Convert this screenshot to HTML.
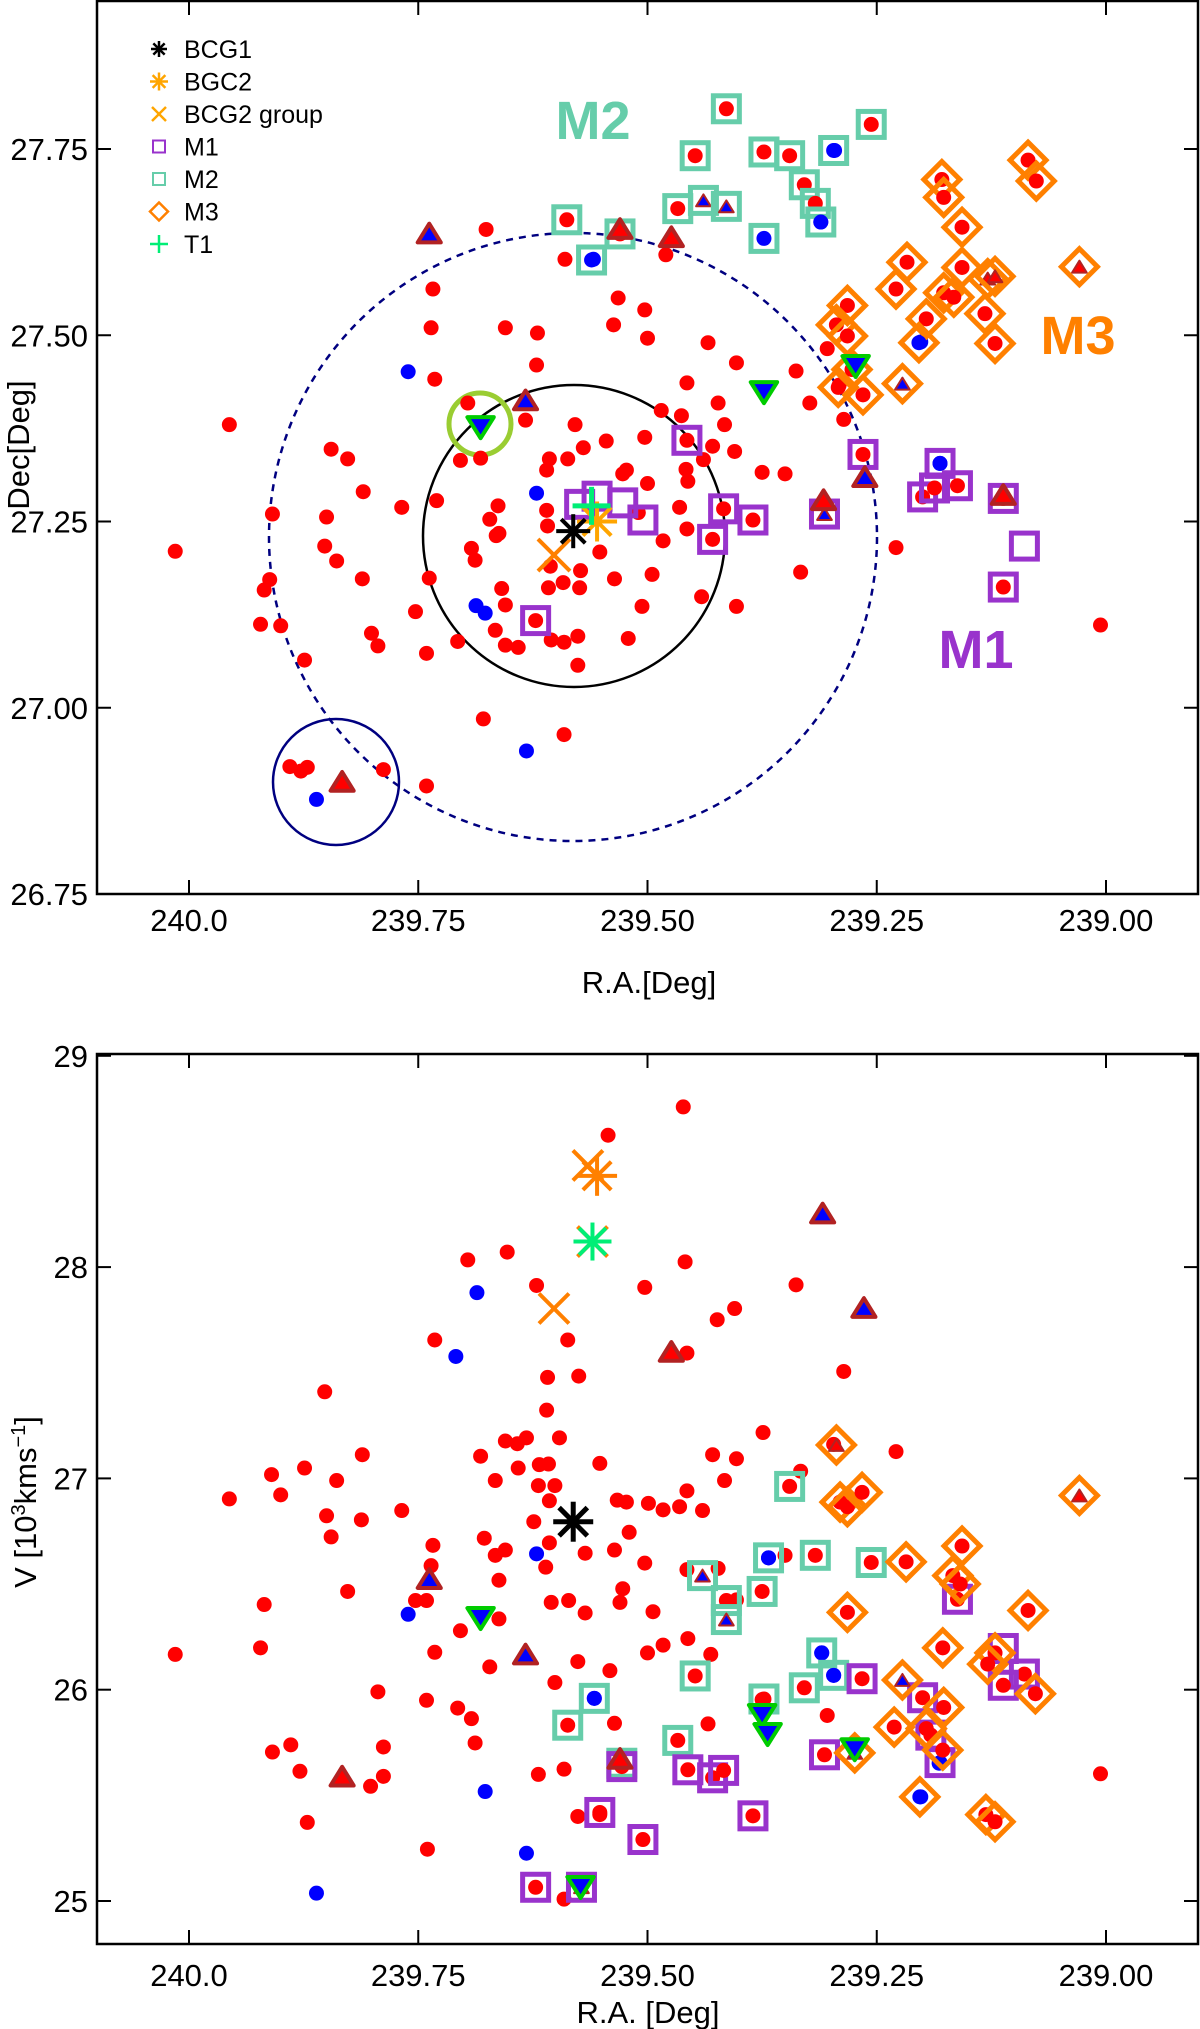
<!DOCTYPE html>
<html><head><meta charset="utf-8"><style>
html,body{margin:0;padding:0;background:#fff;}
svg{display:block;font-family:"Liberation Sans",Arial,sans-serif;}
</style></head><body>
<svg id="fig" width="1200" height="2029" viewBox="0 0 1200 2029" xmlns="http://www.w3.org/2000/svg"></svg>
<script>
// ---------- TOP PANEL DATA (R.A., Dec) ----------
const topRedRA=[240.015,239.956,239.909,239.912,239.918,239.922,239.900,239.874,239.845,239.827,239.810,239.850,239.852,239.839,239.811,239.801,239.794,239.768,239.734,239.736,239.732,239.730,239.738,239.753,239.741,239.707,239.704,239.696,239.682,239.676,239.655,239.620,239.621,239.633,239.663,239.672,239.662,239.665,239.692,239.688,239.659,239.655,239.666,239.655,239.641,239.605,239.591,239.576,239.576,239.608,239.606,239.592,239.574,239.573,239.609,239.610,239.587,239.579,239.607,239.610,239.570,239.545,239.523,239.527,239.500,239.510,239.483,239.495,239.506,239.521,239.536,239.552,239.532,239.537,239.503,239.500,239.485,239.503,239.463,239.457,239.434,239.403,239.338,239.423,239.416,239.429,239.439,239.405,239.458,239.456,239.457,239.465,239.375,239.350,239.323,239.304,239.286,239.291,239.229,239.333,239.403,239.441,239.679,239.591,239.890,239.878,239.871,239.788,239.741,239.590,239.006,239.480];
const topRedDec=[27.210,27.380,27.260,27.172,27.158,27.112,27.110,27.064,27.347,27.334,27.290,27.256,27.217,27.197,27.173,27.100,27.083,27.269,27.562,27.510,27.441,27.278,27.174,27.129,27.073,27.089,27.332,27.409,27.335,27.642,27.510,27.503,27.460,27.386,27.271,27.253,27.234,27.231,27.214,27.198,27.160,27.138,27.104,27.084,27.081,27.091,27.088,27.096,27.057,27.161,27.190,27.168,27.161,27.184,27.244,27.265,27.334,27.380,27.334,27.319,27.349,27.358,27.319,27.314,27.301,27.262,27.224,27.179,27.136,27.093,27.173,27.209,27.550,27.514,27.534,27.496,27.399,27.363,27.392,27.436,27.490,27.463,27.452,27.409,27.380,27.351,27.333,27.344,27.320,27.304,27.240,27.269,27.316,27.314,27.409,27.482,27.387,27.433,27.215,27.182,27.136,27.149,26.985,26.964,26.921,26.915,26.920,26.917,26.895,27.602,27.111,27.608];
const topBlueRA=[239.761,239.621,239.687,239.677,239.632,239.861,239.559,239.296,239.311,239.202,239.181];
const topBlueDec=[27.451,27.288,27.137,27.127,26.942,26.877,27.602,27.748,27.652,27.491,27.328];
const topM1RA=[239.457,239.265,239.200,239.187,239.181,239.162,239.112,239.089,239.112,239.307,239.385,239.429,239.417,239.505,239.527,239.574,239.555,239.622];
const topM1Dec=[27.359,27.340,27.283,27.295,27.328,27.298,27.281,27.217,27.162,27.260,27.252,27.226,27.267,27.252,27.275,27.273,27.284,27.117];
const topM1In=['r','r','r','r','b','r','r','n','r','bt','r','r','r','n','n','n','n','r'];
const topM2RA=[239.588,239.561,239.530,239.467,239.448,239.439,239.414,239.414,239.373,239.345,239.329,239.317,239.311,239.297,239.373,239.256];
const topM2Dec=[27.655,27.601,27.636,27.670,27.741,27.681,27.673,27.804,27.746,27.741,27.702,27.677,27.652,27.748,27.630,27.783];
const topM2In=['r','b','r','r','r','bt','bt','r','r','r','r','r','b','b','b','r'];
const topM3RA=[239.085,239.076,239.179,239.177,239.157,239.217,239.229,239.282,239.294,239.282,239.157,239.177,239.166,239.196,239.204,239.132,239.121,239.129,239.121,239.029,239.222,239.292,239.265,239.277];
const topM3Dec=[27.735,27.707,27.709,27.685,27.645,27.598,27.562,27.540,27.514,27.499,27.591,27.557,27.551,27.522,27.490,27.529,27.489,27.576,27.579,27.592,27.435,27.430,27.420,27.454];
const topM3In=['r','r','r','r','r','r','r','r','r','r','r','r','r','r','b','r','r','rt','rt','rt','bt','r','r','r'];
const topTriRA=[239.738,239.633,239.474,239.530,239.263,239.308,239.833,239.112];
const topTriDec=[27.635,27.411,27.630,27.641,27.308,27.277,26.899,27.284];
const topTriIn=['b','b','r','r','b','r','r','r'];
const topInvRA=[239.682,239.373,239.273];
const topInvDec=[27.378,27.425,27.460];
// special objects [BCG1, BGC2, BCG2 group, T1]
const topSpecRA=[239.581,239.555,239.602,239.561];
const topSpecDec=[27.237,27.250,27.205,27.271];

// ---------- BOTTOM PANEL DATA (R.A., V in 10^3 km/s) ----------
const botRedRA=[240.015,239.956,239.910,239.900,239.874,239.839,239.852,239.811,239.812,239.850,239.845,239.827,239.768,239.734,239.736,239.741,239.753,239.732,239.696,239.653,239.732,239.704,239.741,239.707,239.692,239.688,239.672,239.662,239.662,239.666,239.655,239.678,239.666,239.682,239.655,239.642,239.632,239.641,239.618,239.610,239.609,239.596,239.587,239.575,239.621,239.619,239.608,239.601,239.607,239.624,239.607,239.611,239.605,239.586,239.568,239.576,239.601,239.568,239.552,239.536,239.533,239.523,239.520,239.499,239.503,239.494,239.530,239.527,239.541,239.536,239.552,239.576,239.619,239.591,239.591,239.740,239.871,239.879,239.909,239.889,239.802,239.788,239.788,239.794,239.922,239.918,239.503,239.461,239.543,239.459,239.424,239.405,239.457,239.457,239.483,239.465,239.440,239.416,239.403,239.429,239.457,239.423,239.403,239.431,239.456,239.483,239.500,239.434,239.350,239.333,239.338,239.374,239.286,239.229,239.304,239.006,239.297,239.375];
const botRedV=[26.167,26.903,27.018,26.922,27.049,26.990,27.410,27.112,26.804,26.823,26.723,26.465,26.848,26.683,26.587,26.422,26.422,26.177,28.034,28.071,27.655,26.279,25.950,25.913,25.863,25.748,26.108,26.335,26.518,26.636,26.661,26.717,26.990,27.105,27.177,27.164,27.192,27.049,27.065,27.323,27.478,27.192,27.655,27.484,27.913,26.966,27.068,26.966,26.894,26.795,26.695,26.580,26.413,26.422,26.363,26.133,26.034,26.646,27.071,26.661,26.897,26.888,26.745,26.882,26.599,26.369,26.413,26.478,26.090,25.841,25.409,25.400,25.599,25.624,25.009,25.245,25.372,25.614,25.705,25.739,25.543,25.590,25.729,25.990,26.198,26.403,27.904,28.758,28.624,28.025,27.751,27.804,27.593,26.941,26.851,26.866,26.848,26.990,27.093,27.112,26.568,26.574,26.425,26.167,26.242,26.211,26.174,25.838,26.636,27.034,27.916,27.217,27.506,27.127,25.878,25.602,27.161,25.953];
const botBlueRA=[239.686,239.709,239.761,239.621,239.677,239.632,239.861,239.558,239.368,239.310,239.297,239.202,239.182];
const botBlueV=[27.879,27.577,26.357,26.643,25.518,25.226,25.037,25.959,26.624,26.174,26.068,25.493,25.652];
const botM1RA=[239.266,239.200,239.181,239.191,239.162,239.112,239.089,239.112,239.307,239.456,239.429,239.417,239.385,239.505,239.552,239.622,239.572,239.528];
const botM1V=[26.052,25.962,25.655,25.785,26.428,26.195,26.074,26.021,25.692,25.621,25.583,25.618,25.403,25.291,25.419,25.065,25.065,25.636];
const botM1In=['r','r','b','r','r','n','r','r','r','r','r','r','r','r','r','r','bt','r'];
const botM2RA=[239.345,239.368,239.317,239.256,239.440,239.414,239.414,239.375,239.448,239.310,239.297,239.329,239.373,239.558,239.587,239.467,239.528];
const botM2V=[26.962,26.624,26.636,26.602,26.540,26.422,26.332,26.465,26.065,26.174,26.068,26.009,25.956,25.959,25.832,25.760,25.652];
const botM2In=['r','b','r','r','bt','r','bt','r','r','b','b','r','r','b','r','r','r'];
const botM3RA=[239.294,239.290,239.282,239.266,239.029,239.218,239.157,239.167,239.159,239.282,239.085,239.178,239.222,239.121,239.129,239.077,239.177,239.231,239.196,239.178,239.274,239.203,239.131,239.121];
const botM3V=[27.158,26.888,26.866,26.934,26.919,26.605,26.680,26.540,26.500,26.366,26.375,26.198,26.046,26.174,26.121,25.981,25.916,25.823,25.816,25.714,25.701,25.493,25.409,25.375];
const botM3In=['rt','r','r','r','rt','r','r','r','r','r','r','r','bt','r','r','r','r','r','r','r','bt','b','r','r'];
const botTriRA=[239.309,239.264,239.474,239.738,239.633,239.833,239.530];
const botTriV=[28.248,27.801,27.593,26.518,26.161,25.583,25.667];
const botTriIn=['b','b','r','b','b','r','r'];
const botInvRA=[239.682,239.375,239.369,239.274,239.573];
const botInvV=[26.344,25.885,25.795,25.723,25.071];
// special objects [BCG1, BGC2, BCG2-group X near BGC2, T1, BCG2 group]
const botSpecRA=[239.581,239.555,239.565,239.560,239.602];
const botSpecV=[26.795,28.432,28.481,28.121,27.804];

// ---------- AXIS TICKS ----------
const raTicks=[240.0,239.75,239.5,239.25,239.0];
const raTickLabels=["240.0","239.75","239.50","239.25","239.00"];
const decTicks=[26.75,27.0,27.25,27.5,27.75];
const decTickLabels=["26.75","27.00","27.25","27.50","27.75"];
const vTicks=[25,26,27,28,29];
const vTickLabels=["25","26","27","28","29"];
const legendLabels=["BCG1","BGC2","BCG2 group","M1","M2","M3","T1"];

// ---------- RENDERING ----------
const NS="http://www.w3.org/2000/svg";
const svg=document.getElementById('fig');
const C={red:'#ff0000',blue:'#0000ff',m1:'#9933cc',m2:'#66cdaa',m3:'#ff8000',tri:'#b22222',inv:'#00cc00',t1:'#00ee76'};
function el(tag,attrs,parent){const e=document.createElementNS(NS,tag);for(const k in attrs)e.setAttribute(k,attrs[k]);(parent||svg).appendChild(e);return e;}
const L=97,R=1198;
function xRA(ra){return 189+(240-ra)*917;}
function yDec(d){return 894-(d-26.75)*745;}
function yV(v){return 1901-(v-25)*211.3;}

function dot(g,x,y,col){const c=el('circle',{cx:x,cy:y,r:7.5,fill:col},g);

return c;}
function triUp(g,x,y,col,fill,s,w){s=s||11;return el('polygon',{points:`${x},${y-s} ${x-s*1.05},${y+s*0.7} ${x+s*1.05},${y+s*0.7}`,fill:fill,stroke:col,'stroke-width':w||4,'stroke-linejoin':'round'},g);}
function triDown(g,x,y,col,fill,s){s=s||12;return el('polygon',{points:`${x},${y+s} ${x-s*1.1},${y-s*0.75} ${x+s*1.1},${y-s*0.75}`,fill:fill,stroke:col,'stroke-width':4,'stroke-linejoin':'round'},g);}
function inner(g,x,y,t){
  if(t==='r')dot(g,x,y,C.red);
  else if(t==='b')dot(g,x,y,C.blue);
  else if(t==='bt'){triUp(g,x,y+1,C.tri,C.blue,7,2);}
  else if(t==='rt'){triUp(g,x,y+1,C.tri,C.red,7,2);}
}
function square(g,x,y,col){return el('rect',{x:x-13,y:y-13,width:26,height:26,fill:'none',stroke:col,'stroke-width':5},g);}
function diamond(g,x,y,col){return el('polygon',{points:`${x},${y-18} ${x+18},${y} ${x},${y+18} ${x-18},${y}`,fill:'none',stroke:col,'stroke-width':5,'stroke-linejoin':'miter'},g);}
function asterisk(g,x,y,col,r,w){for(let a=0;a<4;a++){const dx=r*Math.cos(a*Math.PI/4),dy=r*Math.sin(a*Math.PI/4);el('line',{x1:x-dx,y1:y-dy,x2:x+dx,y2:y+dy,stroke:col,'stroke-width':w},g);}}
function cross(g,x,y,col,r,w){el('line',{x1:x-r,y1:y-r,x2:x+r,y2:y+r,stroke:col,'stroke-width':w},g);el('line',{x1:x-r,y1:y+r,x2:x+r,y2:y-r,stroke:col,'stroke-width':w},g);}
function plus(g,x,y,col,r,w){el('line',{x1:x-r,y1:y,x2:x+r,y2:y,stroke:col,'stroke-width':w},g);el('line',{x1:x,y1:y-r,x2:x,y2:y+r,stroke:col,'stroke-width':w},g);}

function drawFrame(top,bot,yTicks,yLabels,yf,xLabY,name){
  const g=el('g',{});
  
  
  el('rect',{x:L,y:top,width:R-L,height:bot-top,fill:'none',stroke:'#000','stroke-width':2.5},g);
  raTicks.forEach((t,i)=>{const x=xRA(t);
    el('line',{x1:x,y1:bot,x2:x,y2:bot-14,stroke:'#000','stroke-width':2},g);
    el('line',{x1:x,y1:top,x2:x,y2:top+14,stroke:'#000','stroke-width':2},g);
    const tx=el('text',{x:x,y:xLabY,'font-size':31,'text-anchor':'middle',fill:'#000'},g);tx.textContent=raTickLabels[i];
    
    });
  yTicks.forEach((t,i)=>{const y=yf(t);
    el('line',{x1:L,y1:y,x2:L+14,y2:y,stroke:'#000','stroke-width':2},g);
    el('line',{x1:R,y1:y,x2:R-14,y2:y,stroke:'#000','stroke-width':2},g);
    const tx=el('text',{x:88,y:y+11,'font-size':31,'text-anchor':'end',fill:'#000'},g);tx.textContent=yLabels[i];
    
    });
  return g;
}

function drawPanel(p){
  const g=el('g',{});
  
  
  p.redX.forEach((v,i)=>dot(g,xRA(v),p.yf(p.redY[i]),C.red));
  p.blueX.forEach((v,i)=>dot(g,xRA(v),p.yf(p.blueY[i]),C.blue));
  const groups=[[p.m2X,p.m2Y,p.m2In,'m2',square],[p.m1X,p.m1Y,p.m1In,'m1',square],[p.m3X,p.m3Y,p.m3In,'m3',diamond]];
  groups.forEach(([xs,ys,ins,key,fn])=>{
    xs.forEach((v,i)=>{const x=xRA(v),y=p.yf(ys[i]);inner(g,x,y,ins[i]);
      const m=fn(g,x,y,C[key]);
      
      });
  });
  p.triX.forEach((v,i)=>{const t=triUp(g,xRA(v),p.yf(p.triY[i]),C.tri,p.triIn[i]==='b'?C.blue:C.red,11,4);
    
    });
  p.invX.forEach((v,i)=>{const x=xRA(v),y=p.yf(p.invY[i]);const t=triDown(g,x,y,C.inv,C.blue,12);
    
    });
  return g;
}

// ---- Top panel ----
drawFrame(1,894,decTicks,decTickLabels,yDec,931,'top');
const circ=el('g',{});


el('circle',{cx:573,cy:537,r:304,fill:'none',stroke:'#000080','stroke-width':2.5,'stroke-dasharray':'7,6'},circ);
el('circle',{cx:574,cy:536,r:151,fill:'none',stroke:'#000','stroke-width':2.5},circ);
el('circle',{cx:336,cy:782,r:63,fill:'none',stroke:'#000080','stroke-width':2.5},circ);
drawPanel({name:'top',yf:yDec,redX:topRedRA,redY:topRedDec,blueX:topBlueRA,blueY:topBlueDec,m1X:topM1RA,m1Y:topM1Dec,m1In:topM1In,m2X:topM2RA,m2Y:topM2Dec,m2In:topM2In,m3X:topM3RA,m3Y:topM3Dec,m3In:topM3In,triX:topTriRA,triY:topTriDec,triIn:topTriIn,invX:topInvRA,invY:topInvDec});
const hc=el('circle',{cx:480,cy:424,r:31,fill:'none',stroke:'#9acd32','stroke-width':5},circ);


const spT=el('g',{});


cross(spT,xRA(topSpecRA[2]),yDec(topSpecDec[2]),C.m3,16,4);
asterisk(spT,xRA(topSpecRA[1]),yDec(topSpecDec[1]),'#ffa500',20,4);
asterisk(spT,xRA(topSpecRA[0]),yDec(topSpecDec[0]),'#000',17,4);
plus(spT,xRA(topSpecRA[3]),yDec(topSpecDec[3]),C.t1,19,5);

// legend
const lg=el('g',{});


legendLabels.forEach((lab,i)=>{const y=58+i*32.5,mx=159,my=y-9;
  if(i===0)asterisk(lg,mx,my,'#000',8,2.5);
  if(i===1)asterisk(lg,mx,my,'#ffa500',9,2.5);
  if(i===2)cross(lg,mx,my,'#ffa500',7,2.5);
  if(i===3)el('rect',{x:mx-6,y:my-6,width:12,height:12,fill:'none',stroke:C.m1,'stroke-width':2},lg);
  if(i===4)el('rect',{x:mx-6,y:my-6,width:12,height:12,fill:'none',stroke:C.m2,'stroke-width':2},lg);
  if(i===5)el('polygon',{points:`${mx},${my-9} ${mx+9},${my} ${mx},${my+9} ${mx-9},${my}`,fill:'none',stroke:C.m3,'stroke-width':2.5},lg);
  if(i===6)plus(lg,mx,my,C.t1,9,2.5);
  const t=el('text',{x:184,y:y,'font-size':25,fill:'#000'},lg);t.textContent=lab;
  
  
});
function bigLabel(txt,x,y,col,nm){const t=el('text',{x:x,y:y,'font-size':54,'font-weight':'bold',fill:col,'text-anchor':'middle'});t.textContent=txt;
  
  }
bigLabel('M2',593,139,C.m2,'m2-label');
bigLabel('M3',1078,354,C.m3,'m3-label');
bigLabel('M1',976,668,C.m1,'m1-label');
const xt1=el('text',{x:649,y:993,'font-size':31,'text-anchor':'middle'});xt1.textContent='R.A.[Deg]';


const yt1=el('text',{x:0,y:0,'font-size':31,'text-anchor':'middle',transform:'translate(29,445) rotate(-90)'});yt1.textContent='Dec[Deg]';



// ---- Bottom panel ----
drawFrame(1054,1944,vTicks,vTickLabels,yV,1986,'bottom');
drawPanel({name:'bottom',yf:yV,redX:botRedRA,redY:botRedV,blueX:botBlueRA,blueY:botBlueV,m1X:botM1RA,m1Y:botM1V,m1In:botM1In,m2X:botM2RA,m2Y:botM2V,m2In:botM2In,m3X:botM3RA,m3Y:botM3V,m3In:botM3In,triX:botTriRA,triY:botTriV,triIn:botTriIn,invX:botInvRA,invY:botInvV});
const spB=el('g',{});


asterisk(spB,xRA(botSpecRA[0]),yV(botSpecV[0]),'#000',20,5);
cross(spB,xRA(botSpecRA[2]),yV(botSpecV[2]),C.m3,15,4);
asterisk(spB,xRA(botSpecRA[1]),yV(botSpecV[1]),C.m3,20,4);
cross(spB,xRA(botSpecRA[3]),yV(botSpecV[3]),C.m3,15,4);
asterisk(spB,xRA(botSpecRA[3]),yV(botSpecV[3]),C.t1,19,4);
cross(spB,xRA(botSpecRA[4]),yV(botSpecV[4]),C.m3,15,4);
const xt2=el('text',{x:648,y:2023,'font-size':31,'text-anchor':'middle'});xt2.textContent='R.A. [Deg]';


const yt2=el('text',{x:0,y:0,'font-size':31,'text-anchor':'middle',transform:'translate(36,1502) rotate(-90)'});
yt2.innerHTML='V [10<tspan dy="-11" font-size="20">3</tspan><tspan dy="11">kms</tspan><tspan dy="-11" font-size="20">−1</tspan><tspan dy="11">]</tspan>';


</script>
</body></html>
